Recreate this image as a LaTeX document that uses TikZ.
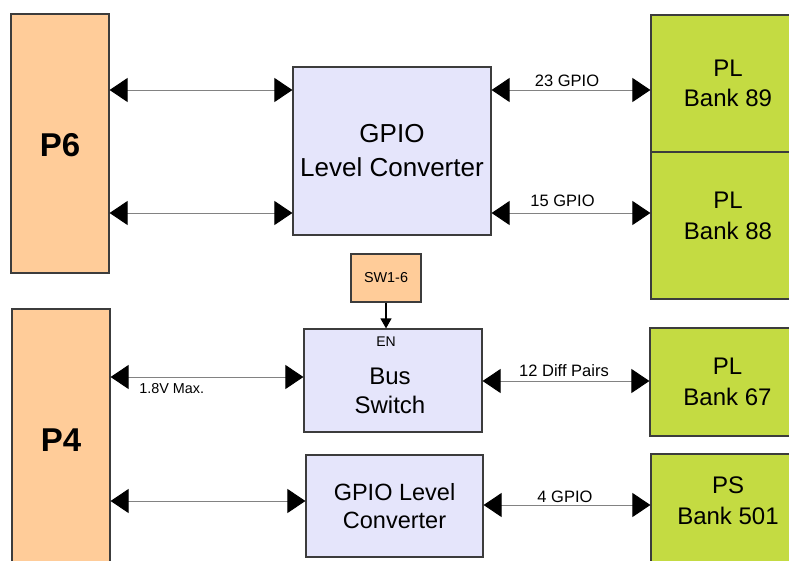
\documentclass[tikz,border=0pt]{standalone}
\usepackage{fontspec}
\setmainfont{Liberation Sans}
\usetikzlibrary{arrows.meta}
\definecolor{peach}{RGB}{255,204,153}
\definecolor{limeg}{RGB}{196,219,66}
\definecolor{lav}{RGB}{229,229,251}
\definecolor{bordercol}{RGB}{60,60,60}
\definecolor{linegray}{RGB}{130,130,130}
\tikzset{
  box/.style={draw=bordercol, line width=1.2pt, inner sep=0pt, align=center, text=black},
  peachbox/.style={box, fill=peach},
  greenbox/.style={box, fill=limeg},
  lavbox/.style={box, fill=lav},
  bigtip/.tip={Triangle[length=18pt,width=24pt,color=black]},
  biarrow/.style={draw=linegray, line width=1pt, bigtip-bigtip},
  enarrow/.style={draw=black, line width=1.4pt, -{Triangle[length=10pt,width=11pt]}},
  smalllab/.style={inner sep=0pt, font=\fontsize{16.5}{19}\selectfont},
  tinylab/.style={inner sep=0pt, font=\fontsize{14.4}{17}\selectfont},
  bankfont/.style={font=\fontsize{24}{30.5}\selectfont},
  pfont/.style={font=\bfseries\fontsize{33}{40}\selectfont}
}
\begin{document}
\begin{tikzpicture}[x=1pt,y=-1pt]
\useasboundingbox (0,0) rectangle (789,560);
\clip (0,0) rectangle (789,560);

% left connectors
\node[peachbox, minimum width=98pt, minimum height=259pt,
      label={[pfont, yshift=-2pt]center:P6}] (P6) at (60,143.5) {};
\node[peachbox, pfont, minimum width=98pt, minimum height=262pt] (P4) at (61,440) {P4};

% middle blocks
\node[lavbox, minimum width=198pt, minimum height=168pt,
      font=\fontsize{26}{34}\selectfont] (gtop) at (392,151) {GPIO\\Level Converter};
\node[peachbox, minimum width=70pt, minimum height=48pt,
      font=\fontsize{14.4}{17}\selectfont] (sw) at (386,278) {SW1-6};
\node[lavbox, minimum width=178pt, minimum height=103pt,
      label={[align=center, xshift=-3pt, yshift=-10.5pt, font=\fontsize{24}{29.3}\selectfont]center:{Bus\\Switch}},
      label={[xshift=-7pt, yshift=38.5pt, font=\fontsize{14}{17}\selectfont]center:EN}] (bus) at (393,380.5) {};
\node[lavbox, minimum width=177pt, minimum height=102pt,
      font=\fontsize{23.5}{28}\selectfont] (gbot) at (394.5,506) {GPIO Level\\Converter};

% right banks
\node[greenbox, bankfont, minimum width=154pt, minimum height=137pt] (PL89) at (728,83.5) {PL\\Bank 89};
\node[greenbox, minimum width=154pt, minimum height=147pt,
      label={[align=center, yshift=9.5pt, bankfont]center:{PL\\Bank 88}}] (PL88) at (728,225.5) {};
\node[greenbox, bankfont, minimum width=155pt, minimum height=108pt] (PL67) at (727.5,382) {PL\\Bank 67};
\node[greenbox, minimum width=154pt, minimum height=126pt,
      label={[align=center, yshift=16.5pt, bankfont]center:{PS\\Bank 501}}] (PS501) at (728,517) {};

% connectors
\draw[biarrow] (P6.east |- 0,90) -- (gtop.west |- 0,90);
\draw[biarrow] (P6.east |- 0,213) -- (gtop.west |- 0,213);
\draw[biarrow] (gtop.east |- 0,90) -- (PL89.west |- 0,90);
\draw[biarrow] (gtop.east |- 0,213) -- (PL88.west |- 0,213);
\draw[biarrow] (P4.east |- 0,377) -- (bus.west |- 0,377);
\draw[biarrow] (bus.east |- 0,381) -- (PL67.west |- 0,381);
\draw[biarrow] (P4.east |- 0,501) -- (gbot.west |- 0,501);
\draw[biarrow] (gbot.east |- 0,505) -- (PS501.west |- 0,505);
\draw[enarrow] (sw.south) -- (sw.south |- bus.north);

% connector labels
\node[smalllab] (l23) at (567,81) {23 GPIO};
\node[smalllab] (l15) at (562.5,201) {15 GPIO};
\node[smalllab] (l12) at (564,370.8) {12 Diff Pairs};
\node[smalllab] (l4) at (565,496.8) {4 GPIO};
\node[tinylab] (l18) at (171.7,388.3) {1.8V Max.};
\end{tikzpicture}
\end{document}
